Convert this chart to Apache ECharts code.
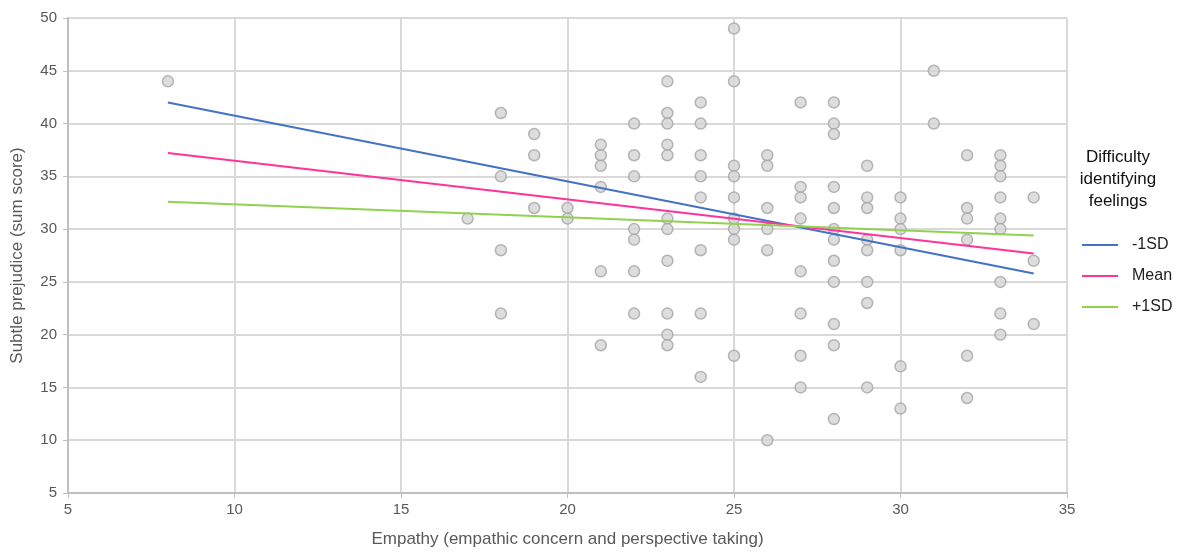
<!DOCTYPE html>
<html><head><meta charset="utf-8">
<script src="https://cdn.jsdelivr.net/npm/echarts@6/dist/echarts.min.js"></script>
<style>html,body{margin:0;padding:0;background:#fff}#c{width:1180px;height:553px}</style>
</head><body><div id="c"></div>
<script>
// Observed points: [empathy, subtle prejudice]
const empathyX = [8,17,18,18,18,18,19,19,19,20,20,21,21,21,21,21,21,22,22,22,22,22,22,22,
 23,23,23,23,23,23,23,23,23,23,23,24,24,24,24,24,24,24,24,25,25,25,25,25,25,25,25,25,
 26,26,26,26,26,26,27,27,27,27,27,27,27,27,28,28,28,28,28,28,28,28,28,28,28,28,
 29,29,29,29,29,29,29,29,30,30,30,30,30,30,31,31,32,32,32,32,32,32,
 33,33,33,33,33,33,33,33,33,34,34,34];
const prejudiceY = [44,31,41,35,28,22,39,37,32,32,31,38,37,36,34,26,19,40,37,35,30,29,26,22,
 44,41,40,38,37,31,30,27,22,20,19,42,40,37,35,33,28,22,16,49,44,36,35,33,31,30,29,18,
 37,36,32,30,28,10,42,34,33,31,26,22,18,15,42,40,39,34,32,30,29,27,25,21,19,12,
 36,33,32,29,28,25,23,15,33,31,30,28,17,13,45,40,37,32,31,29,18,14,
 37,36,35,33,31,30,25,22,20,33,27,21];
// Simple slopes lines (endpoints)
const lineX = [8, 34];
const minus1SD = [42.0, 25.8];
const meanLine = [37.2, 27.7];
const plus1SD = [32.6, 29.4];
const seriesNames = ['-1SD', 'Mean', '+1SD'];
const legendTitle = 'Difficulty\nidentifying\nfeelings';

const pts = empathyX.map((x, i) => [x, prejudiceY[i]]);
const mk = arr => lineX.map((x, i) => [x, arr[i]]);
const font = 'Liberation Sans, Arial, sans-serif';
const chart = echarts.init(document.getElementById('c'));
chart.setOption({
  animation: false,
  grid: {left: 68, right: 113, top: 18, bottom: 58},
  xAxis: {
    type: 'value', min: 5, max: 35, interval: 5,
    name: 'Empathy (empathic concern and perspective taking)',
    nameLocation: 'middle', nameGap: 38,
    nameTextStyle: {fontFamily: font, fontSize: 17, color: '#595959'},
    axisLine: {show: true, lineStyle: {color: '#bfbfbf', width: 2}},
    axisTick: {show: true, length: 5, lineStyle: {color: '#bfbfbf'}},
    axisLabel: {fontFamily: font, fontSize: 15, color: '#595959', margin: 9},
    splitLine: {show: true, lineStyle: {color: '#d9d9d9', width: 2}}
  },
  yAxis: {
    type: 'value', min: 5, max: 50, interval: 5,
    name: 'Subtle prejudice (sum score)',
    nameLocation: 'middle', nameGap: 42,
    nameTextStyle: {fontFamily: font, fontSize: 17, color: '#595959'},
    axisLine: {show: true, lineStyle: {color: '#bfbfbf', width: 2}},
    axisTick: {show: true, length: 5, lineStyle: {color: '#bfbfbf'}},
    axisLabel: {fontFamily: font, fontSize: 15, color: '#595959', margin: 11},
    splitLine: {show: true, lineStyle: {color: '#d9d9d9', width: 2}}
  },
  legend: {
    orient: 'vertical', left: 1077, top: 232,
    data: seriesNames, icon: 'rect', itemWidth: 36, itemHeight: 2, itemGap: 15,
    textStyle: {fontFamily: font, fontSize: 16, color: '#222', padding: [0,0,0,9]}
  },
  graphic: [{
    type: 'text', x: 1118, y: 146,
    style: {text: legendTitle, fontFamily: font, fontSize: 17, fill: '#111', align: 'center', lineHeight: 22}
  }],
  series: [
    {type: 'scatter', name: 'obs', data: pts, symbolSize: 11,
     itemStyle: {color: '#d4d4d4', borderColor: '#a5a5a5', borderWidth: 1.5}, z: 2},
    {type: 'line', name: seriesNames[0], data: mk(minus1SD), symbol: 'none', lineStyle: {color: '#4472c4', width: 2}, itemStyle: {color: '#4472c4'}, z: 3},
    {type: 'line', name: seriesNames[1], data: mk(meanLine), symbol: 'none', lineStyle: {color: '#ff3399', width: 2}, itemStyle: {color: '#ff3399'}, z: 3},
    {type: 'line', name: seriesNames[2], data: mk(plus1SD), symbol: 'none', lineStyle: {color: '#92d050', width: 2}, itemStyle: {color: '#92d050'}, z: 3}
  ]
});
</script></body></html>
